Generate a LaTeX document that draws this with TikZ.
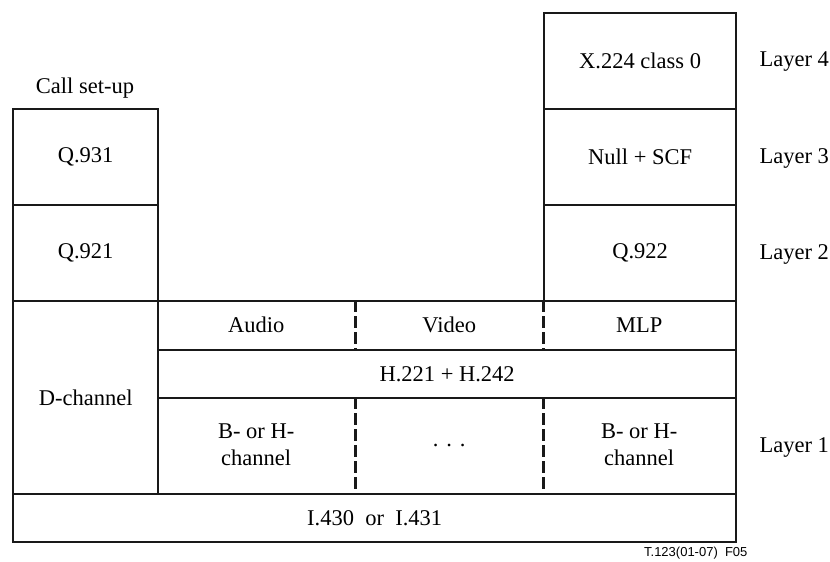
\documentclass[tikz,border=0pt]{standalone}
\usepackage{fontspec}
\setmainfont{Liberation Serif}
\newfontfamily\capsans{Liberation Sans}
\begin{document}
\begin{tikzpicture}[x=1pt,y=-1pt,
  lw/.style={line width=2.3pt, draw=black!90},
  box/.style={lw, rectangle, inner sep=0pt, anchor=north west, font=\fontsize{22.5}{27}\selectfont, align=center},
  cell/.style={rectangle, inner sep=0pt, anchor=north west, font=\fontsize{22.5}{27}\selectfont, align=center},
  lbl/.style={font=\fontsize{22.5}{27}\selectfont, anchor=west},
  dsh/.style={line width=2.6pt, draw=black!90, dash pattern=on 12pt off 4pt}]
\useasboundingbox (0,0) rectangle (830,562);
% left column
\node[box, minimum width=145pt, minimum height=96pt] (q931) at (12,108) {Q.931};
\node[box, minimum width=145pt, minimum height=96pt] (q921) at (12,204) {Q.921};
\node[box, minimum width=145pt, minimum height=193pt] (dch) at (12,300) {D-channel};
\node[font=\fontsize{22.5}{27}\selectfont] (call) at (85,88) {Call set-up};
% right column
\node[box, minimum width=192pt, minimum height=96pt] (x224) at (543,12) {X.224 class 0};
\node[box, minimum width=192pt, minimum height=96pt] (null) at (543,108) {Null + SCF};
\node[box, minimum width=192pt, minimum height=96pt] (q922) at (543,204) {Q.922};
% middle rows
\node[box, minimum width=578pt, minimum height=49pt] (row1) at (157,300) {};
\node[cell, minimum width=198pt, minimum height=49pt] (audio) at (157,300) {Audio};
\node[cell, minimum width=188pt, minimum height=49pt] (video) at (355,300) {Video};
\node[cell, minimum width=192pt, minimum height=49pt] (mlp) at (543,300) {MLP};
\node[box, minimum width=578pt, minimum height=48pt] (hrow) at (157,349) {H.221 + H.242};
\node[box, minimum width=578pt, minimum height=96pt] (row3) at (157,397) {};
\node[cell, minimum width=198pt, minimum height=96pt] (bh1) at (157,397) {B- or H-\\channel};
\node[cell, minimum width=188pt, minimum height=96pt] (dots) at (355,397) {.\hspace{0.35em}.\hspace{0.35em}.};
\node[cell, minimum width=192pt, minimum height=96pt] (bh2) at (543,397) {B- or H-\\channel};
\draw[dsh] (audio.north east) -- (audio.south east);
\draw[dsh] (video.north east) -- (video.south east);
\draw[dsh] (bh1.north east) -- (bh1.south east);
\draw[dsh] (dots.north east) -- (dots.south east);
% bottom
\node[box, minimum width=723pt, minimum height=48pt] (phy) at (12,493) {I.430\ \ or\ \ I.431};
% layer labels
\node[lbl] (l4) at (756,62) {Layer 4};
\node[lbl] (l3) at (756,158) {Layer 3};
\node[lbl] (l2) at (756,254) {Layer 2};
\node[lbl] (l1) at (756,447) {Layer 1};
\node[font=\capsans\fontsize{13}{15}\selectfont, anchor=east] (tag) at (751,553) {T.123(01-07)\ \ F05};
\end{tikzpicture}
\end{document}
